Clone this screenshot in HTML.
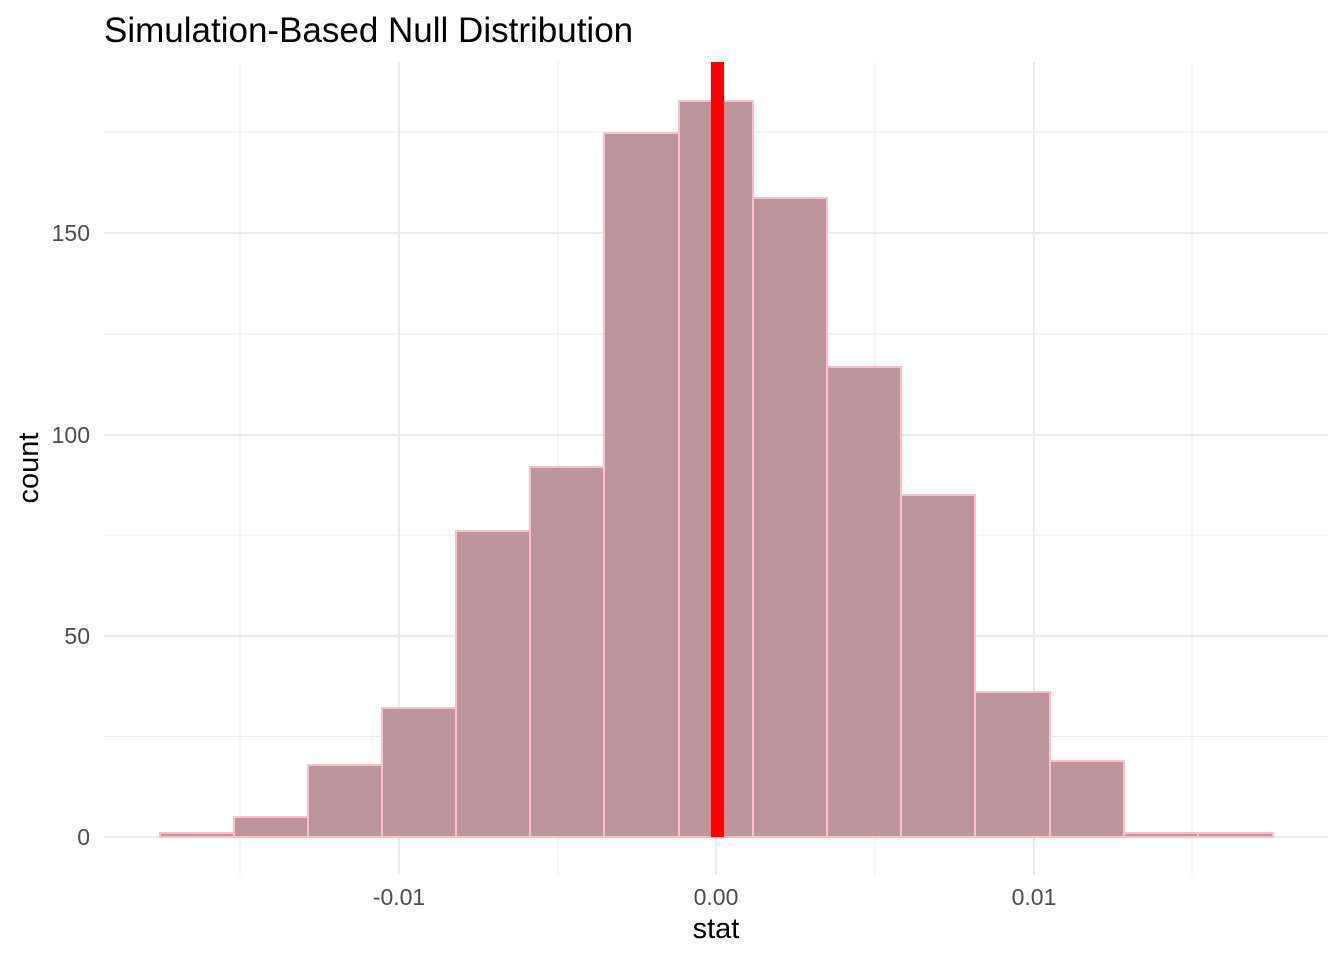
<!DOCTYPE html>
<html><head><meta charset="utf-8"><style>
html,body{margin:0;padding:0;background:#fff;}
</style></head><body>
<svg width="1344" height="960" xmlns="http://www.w3.org/2000/svg" font-family="Liberation Sans, sans-serif">
<rect width="1344" height="960" fill="#fff"/>
<g stroke="#ebebeb" stroke-width="1">
<line x1="104" x2="1328" y1="736.5" y2="736.5"/>
<line x1="104" x2="1328" y1="535" y2="535"/>
<line x1="104" x2="1328" y1="334" y2="334"/>
<line x1="104" x2="1328" y1="132" y2="132"/>
<line x1="240" x2="240" y1="62" y2="875"/>
<line x1="558" x2="558" y1="62" y2="875"/>
<line x1="875" x2="875" y1="62" y2="875"/>
<line x1="1192" x2="1192" y1="62" y2="875"/>
</g>
<g stroke="#ebebeb" stroke-width="2">
<line x1="104" x2="1328" y1="837" y2="837"/>
<line x1="104" x2="1328" y1="636" y2="636"/>
<line x1="104" x2="1328" y1="435" y2="435"/>
<line x1="104" x2="1328" y1="233" y2="233"/>
<line x1="399" x2="399" y1="62" y2="875"/>
<line x1="716" x2="716" y1="62" y2="875"/>
<line x1="1034" x2="1034" y1="62" y2="875"/>
</g>
<g fill="#bc969c" stroke="#ffc0cb" stroke-width="2">
<rect x="160" y="833" width="74" height="4"/>
<rect x="234" y="817" width="74" height="20"/>
<rect x="308" y="765" width="74" height="72"/>
<rect x="382" y="708" width="74" height="129"/>
<rect x="456" y="531" width="74" height="306"/>
<rect x="530" y="467" width="74" height="370"/>
<rect x="604" y="133" width="75" height="704"/>
<rect x="679" y="101" width="74" height="736"/>
<rect x="753" y="198" width="74" height="639"/>
<rect x="827" y="367" width="74" height="470"/>
<rect x="901" y="495" width="74" height="342"/>
<rect x="975" y="692" width="75" height="145"/>
<rect x="1050" y="761" width="74" height="76"/>
<rect x="1124" y="833" width="74" height="4"/>
<rect x="1198" y="833" width="75" height="4"/>
</g>
<rect x="711" y="62" width="13" height="775" fill="#ff0000"/>
<g fill="#4d4d4d" font-size="23" text-anchor="end">
<text x="90" y="845">0</text>
<text x="90" y="644">50</text>
<text x="90" y="443">100</text>
<text x="90" y="241">150</text>
</g>
<g fill="#4d4d4d" font-size="23" text-anchor="middle">
<text x="399" y="905">-0.01</text>
<text x="716" y="905">0.00</text>
<text x="1034" y="905">0.01</text>
</g>
<text x="716" y="938" font-size="29" text-anchor="middle" fill="#000">stat</text>
<text x="38" y="468" font-size="29" text-anchor="middle" fill="#000" transform="rotate(-90 38 468)">count</text>
<text x="104" y="42" font-size="35" fill="#000">Simulation-Based Null Distribution</text>
</svg>
</body></html>
